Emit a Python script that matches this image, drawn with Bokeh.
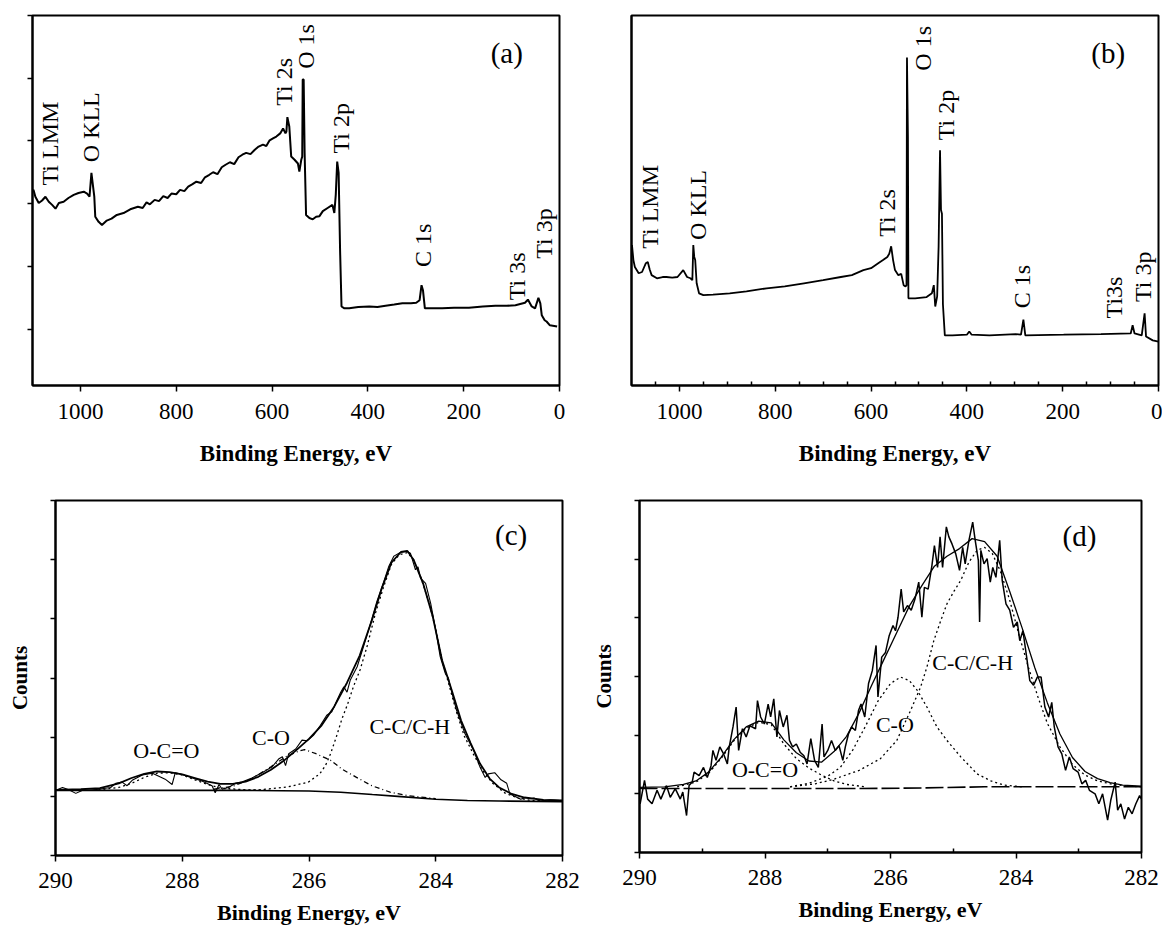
import numpy as np
from bokeh.plotting import figure
from bokeh.layouts import column, row
from bokeh.models import Range1d, FixedTicker, ColumnDataSource, CustomJSTickFormatter
from bokeh.core.properties import value
from bokeh.embed import file_html
from bokeh.resources import INLINE

FONT = "Liberation Serif"

# ---------------- (a) survey spectrum ----------------
a_be = [1100, 1098, 1094, 1087, 1080, 1073, 1066, 1059, 1052, 1045, 1035, 1025, 1014, 1004,
        993, 986, 981, 977, 974, 971, 969, 962, 955, 945, 935, 924, 910, 896, 880, 870, 862,
        855, 845, 836, 827, 818, 810, 800, 792, 783, 775, 766, 758, 748, 740, 731, 723, 714,
        705, 697, 688, 679, 670, 662, 654, 645, 636, 628, 619, 612, 605, 598, 591, 583, 577,
        572, 570, 568, 564, 560, 553, 546, 543, 539, 537, 536, 534, 532, 529, 522, 515, 508,
        501, 494, 484, 474, 470, 467, 464, 461, 458, 455, 449, 439, 420, 397, 380, 363, 345,
        328, 310, 299, 292, 288, 285, 281, 265, 245, 220, 189, 160, 134, 110, 92, 72, 66, 58,
        51, 44, 40, 37, 31, 27, 20, 11, 5]
a_counts = [2.20, 2.22, 2.11, 2.01, 2.05, 2.11, 2.03, 1.98, 1.92, 2.01, 2.03, 2.09, 2.14, 2.17,
            2.19, 2.16, 2.11, 2.49, 2.30, 2.11, 1.79, 1.71, 1.66, 1.73, 1.76, 1.82, 1.85, 1.91,
            1.95, 1.93, 2.02, 1.99, 2.06, 2.04, 2.12, 2.09, 2.16, 2.15, 2.22, 2.20, 2.27, 2.31,
            2.35, 2.33, 2.42, 2.46, 2.50, 2.47, 2.58, 2.62, 2.66, 2.63, 2.74, 2.78, 2.81, 2.79,
            2.86, 2.91, 2.94, 2.92, 3.01, 3.04, 3.07, 3.12, 3.20, 3.12, 3.15, 3.38, 3.23, 2.75,
            2.70, 2.64, 2.51, 2.70, 2.75, 3.98, 3.98, 2.81, 1.82, 1.77, 1.75, 1.79, 1.80, 1.88,
            1.93, 1.98, 1.85, 2.14, 2.67, 2.49, 1.26, 0.36, 0.33, 0.33, 0.35, 0.36, 0.35, 0.37,
            0.39, 0.41, 0.41, 0.42, 0.46, 0.70, 0.62, 0.33, 0.33, 0.33, 0.34, 0.34, 0.36, 0.37,
            0.37, 0.38, 0.42, 0.47, 0.36, 0.33, 0.50, 0.41, 0.22, 0.14, 0.12, 0.06, 0.05, 0.04]
a_labels = ["Ti LMM", "O KLL", "Ti 2s", "O 1s", "Ti 2p", "C 1s", "Ti 3s", "Ti 3p"]
a_label_be = [1064, 978, 575, 529, 457, 284, 89, 33]
a_label_y = [2.29, 2.66, 3.56, 4.15, 2.80, 0.99, 0.46, 1.12]

# ---------------- (b) survey spectrum ----------------
b_be = [1099, 1096, 1093, 1085, 1078, 1070, 1066, 1062, 1058, 1047, 1035, 1027, 1015, 1004,
        992, 984, 977, 973, 971, 969, 967, 964, 959, 950, 930, 895, 860, 818, 780, 740, 700,
        663, 640, 616, 600, 585, 575, 566, 562, 558, 554, 550, 543, 537, 532, 528, 526, 525,
        523, 522, 520, 508, 484, 473, 469, 466, 462, 459, 456, 454, 452, 450, 446, 430, 400,
        395, 390, 353, 298, 287, 282, 278, 198, 120, 58, 54, 50, 35, 29, 26, 12, 0]
b_counts = [1.34, 1.10, 0.99, 0.89, 0.91, 1.05, 1.07, 0.95, 0.86, 0.81, 0.83, 0.83, 0.82, 0.83,
            0.94, 0.83, 0.81, 0.78, 1.34, 1.15, 1.10, 0.73, 0.57, 0.54, 0.55, 0.57, 0.60, 0.65,
            0.68, 0.73, 0.78, 0.83, 0.86, 0.94, 0.97, 1.05, 1.10, 1.15, 1.20, 1.32, 1.10, 0.94,
            0.86, 0.88, 0.70, 0.68, 0.70, 4.33, 3.06, 0.49, 0.49, 0.49, 0.51, 0.57, 0.70, 0.36,
            0.52, 1.31, 2.85, 1.90, 1.84, 0.40, -0.10, -0.10, -0.09, -0.04, -0.09, -0.10, -0.08,
            -0.09, 0.15, -0.10, -0.09, -0.08, -0.07, 0.06, -0.07, -0.10, 0.25, -0.12, -0.18, -0.20]
b_labels = ["Ti LMM", "O KLL", "Ti 2s", "O 1s", "Ti 2p", "C 1s", "Ti3s", "Ti 3p"]
b_label_be = [1062, 961, 566, 491, 444, 285, 93, 33]
b_label_y = [1.28, 1.42, 1.47, 4.12, 3.01, 0.33, 0.17, 0.43]

# ---------------- (c) C 1s high resolution ----------------
c_raw_be = [290.00, 289.89, 289.79, 289.68, 289.58, 289.47, 289.32, 289.13, 289.05, 288.95,
            288.87, 288.79, 288.63, 288.47, 288.27, 288.16, 288.11, 288.00, 287.84, 287.69,
            287.53, 287.48, 287.42, 287.37, 287.27, 287.16, 287.06, 286.90, 286.74, 286.58,
            286.48, 286.42, 286.37, 286.32, 286.21, 286.11, 286.03, 285.93, 285.82, 285.72,
            285.64, 285.56, 285.50, 285.45, 285.40, 285.35, 285.24, 285.14, 285.03, 284.93,
            284.82, 284.74, 284.66, 284.56, 284.45, 284.40, 284.32, 284.28, 284.24, 284.16,
            284.08, 284.00, 283.93, 283.85, 283.80, 283.77, 283.67, 283.54, 283.40, 283.30,
            283.22, 283.17, 283.07, 282.97, 282.88, 282.83, 282.77, 282.66, 282.58, 282.50,
            282.45, 282.35, 282.20, 282.04]
c_raw = [0.10, 0.15, 0.11, 0.05, 0.10, 0.10, 0.12, 0.15, 0.22, 0.24,
         0.18, 0.27, 0.36, 0.39, 0.29, 0.20, 0.40, 0.37, 0.31, 0.26,
         0.18, 0.06, 0.20, 0.12, 0.15, 0.22, 0.24, 0.31, 0.40, 0.50,
         0.63, 0.67, 0.52, 0.72, 0.80, 0.95, 0.94, 1.03, 1.20, 1.37,
         1.43, 1.62, 1.76, 1.85, 1.76, 1.96, 2.19, 2.53, 2.92, 3.29,
         3.63, 3.89, 4.06, 4.12, 4.14, 4.11, 3.83, 3.88, 3.69, 3.60,
         3.26, 2.81, 2.36, 2.08, 2.00, 1.85, 1.45, 1.06, 0.77, 0.49,
         0.32, 0.38, 0.40, 0.28, 0.22, 0.04, 0.01, -0.05, -0.02, -0.04,
         -0.03, -0.08, -0.06, -0.07]
c_env_be = [290.0, 289.6, 289.3, 289.0, 288.8, 288.6, 288.4, 288.2, 288.0, 287.8, 287.6,
            287.4, 287.2, 287.0, 286.8, 286.6, 286.4, 286.2, 286.0, 285.8, 285.6, 285.4,
            285.2, 285.0, 284.85, 284.7, 284.55, 284.45, 284.35, 284.2, 284.05, 283.9,
            283.75, 283.6, 283.45, 283.3, 283.15, 283.0, 282.8, 282.6, 282.3, 282.0]
c_env = [0.11, 0.12, 0.14, 0.22, 0.31, 0.38, 0.42, 0.41, 0.37, 0.31, 0.25,
         0.21, 0.21, 0.25, 0.33, 0.45, 0.60, 0.78, 0.97, 1.20, 1.52, 1.92,
         2.38, 3.00, 3.52, 3.95, 4.13, 4.15, 4.00, 3.60, 3.05, 2.30,
         1.80, 1.28, 0.90, 0.55, 0.30, 0.15, 0.04, -0.02, -0.06, -0.07]
c_base_be = [290.0, 287.0, 286.0, 285.5, 285.0, 284.6, 284.0, 283.5, 283.0, 282.0]
c_base = [0.10, 0.10, 0.09, 0.07, 0.03, 0.00, -0.05, -0.07, -0.08, -0.09]
c_oco_be = [289.4, 289.0, 288.8, 288.6, 288.4, 288.2, 288.0, 287.8, 287.6, 287.4, 287.0, 286.6]
c_oco = [0.10, 0.15, 0.22, 0.32, 0.39, 0.40, 0.36, 0.28, 0.20, 0.14, 0.11, 0.10]
c_co_be = [287.5, 287.2, 286.9, 286.6, 286.35, 286.15, 286.07, 285.89, 285.66, 285.48,
           285.25, 285.01, 284.72, 284.43, 284.0]
c_co = [0.12, 0.17, 0.30, 0.50, 0.68, 0.77, 0.79, 0.72, 0.61, 0.46,
        0.32, 0.18, 0.07, 0.01, -0.04]
c_cc_be = [287.5, 287.0, 286.77, 286.33, 286.01, 285.83, 285.74, 285.66, 285.57, 285.48,
           285.39, 285.30, 285.19, 285.08, 284.95, 284.82, 284.70, 284.58, 284.45, 284.35,
           284.24, 284.10, 284.00, 283.90, 283.80, 283.68, 283.55, 283.40, 283.25, 283.10,
           282.90, 282.70, 282.50, 282.00]
c_cc = [0.10, 0.10, 0.11, 0.16, 0.24, 0.38, 0.52, 0.72, 1.00, 1.31,
        1.56, 1.85, 2.15, 2.55, 3.10, 3.55, 3.92, 4.08, 4.12, 4.00,
        3.72, 3.25, 2.82, 2.30, 1.92, 1.45, 1.02, 0.70, 0.42, 0.22,
        0.05, -0.03, -0.07, -0.08]
c_labels = ["O-C=O", "C-O", "C-C/C-H"]
c_label_be = [288.25, 286.6, 284.41]
c_label_y = [0.78, 0.99, 1.18]

# ---------------- (d) C 1s high resolution ----------------
d_raw_be = [289.99, 289.92, 289.87, 289.80, 289.72, 289.66, 289.57, 289.51, 289.43, 289.35,
            289.31, 289.25, 289.21, 289.16, 289.13, 289.05, 288.98, 288.92, 288.86, 288.83,
            288.78, 288.72, 288.66, 288.60, 288.57, 288.51, 288.46, 288.42, 288.36, 288.30,
            288.24, 288.15, 288.12, 288.07, 288.01, 287.95, 287.91, 287.86, 287.81, 287.77,
            287.71, 287.65, 287.61, 287.56, 287.50, 287.44, 287.38, 287.33, 287.27, 287.21,
            287.15, 287.09, 287.06, 287.00, 286.94, 286.88, 286.82, 286.76, 286.72, 286.67,
            286.62, 286.56, 286.51, 286.47, 286.41, 286.35, 286.29, 286.23, 286.20, 286.14,
            286.08, 286.02, 285.96, 285.92, 285.88, 285.83, 285.79, 285.73, 285.67, 285.61,
            285.55, 285.50, 285.46, 285.40, 285.34, 285.30, 285.25, 285.21, 285.17, 285.11,
            285.07, 285.02, 284.96, 284.90, 284.85, 284.81, 284.75, 284.69, 284.65, 284.60,
            284.58, 284.56, 284.51, 284.46, 284.41, 284.37, 284.32, 284.26, 284.22, 284.16,
            284.10, 284.04, 283.98, 283.94, 283.89, 283.83, 283.78, 283.72, 283.66, 283.60,
            283.54, 283.48, 283.43, 283.39, 283.33, 283.27, 283.21, 283.15, 283.09, 283.01,
            282.95, 282.89, 282.83, 282.74, 282.68, 282.62, 282.54, 282.49, 282.42, 282.38,
            282.33, 282.27, 282.21, 282.15, 282.09, 282.03, 282.00]
d_raw = [-0.17, 0.23, -0.09, -0.17, 0.06, -0.09, 0.14, -0.06, 0.09, -0.09,
         0.03, -0.37, 0.14, 0.20, 0.37, 0.31, 0.45, 0.28, 0.48, 0.74,
         0.57, 0.80, 0.68, 0.51, 0.80, 1.14, 1.48, 0.74, 1.11, 0.97,
         1.16, 1.11, 1.59, 1.31, 1.19, 1.53, 1.31, 1.62, 0.97, 1.42,
         1.14, 1.34, 0.91, 0.80, 0.85, 0.71, 0.65, 0.51, 0.94, 0.57,
         0.45, 1.19, 0.63, 0.74, 0.91, 0.74, 0.82, 0.57, 0.80, 1.02,
         1.14, 1.08, 1.42, 1.53, 1.31, 1.88, 2.10, 2.53, 1.65, 2.33,
         2.41, 2.70, 2.87, 2.78, 3.01, 3.49, 3.10, 3.21, 3.13, 3.32,
         3.61, 3.01, 3.52, 3.49, 3.89, 4.23, 3.86, 4.38, 3.86, 4.55,
         4.38, 4.26, 4.09, 3.81, 4.20, 3.92, 4.32, 4.63, 4.32, 3.98,
         2.93, 4.15, 3.92, 4.01, 3.61, 3.86, 3.69, 4.32, 3.64, 3.24,
         3.13, 2.84, 2.93, 2.61, 2.78, 2.33, 1.93, 1.85, 1.99, 1.99,
         1.48, 1.31, 1.56, 1.14, 0.80, 0.68, 0.40, 0.63, 0.43, 0.37,
         0.17, 0.23, 0.06, 0.00, -0.17, 0.00, -0.45, -0.11, 0.20, -0.28,
         -0.17, -0.43, -0.23, -0.34, -0.17, -0.03, -0.09]
d_env_be = [290.0, 289.6, 289.3, 289.1, 288.9, 288.7, 288.5, 288.3, 288.1, 287.9, 287.7,
            287.5, 287.3, 287.1, 286.9, 286.7, 286.5, 286.3, 286.1, 285.9, 285.7, 285.5,
            285.3, 285.1, 284.9, 284.7, 284.5, 284.3, 284.1, 283.9, 283.7, 283.5, 283.3,
            283.1, 282.9, 282.7, 282.5, 282.3, 282.0]
d_env = [0.11, 0.12, 0.16, 0.22, 0.37, 0.62, 0.92, 1.14, 1.24, 1.21, 0.92,
         0.70, 0.56, 0.54, 0.72, 0.98, 1.38, 1.85, 2.30, 2.75, 3.20, 3.55,
         3.88, 4.05, 4.18, 4.35, 4.30, 4.05, 3.45, 2.82, 2.15, 1.55, 1.02,
         0.62, 0.38, 0.26, 0.19, 0.15, 0.13]
d_base_be = [290.0, 286.5, 285.5, 284.5, 282.0]
d_base = [0.09, 0.09, 0.10, 0.12, 0.12]
d_oco_be = [289.4, 289.1, 288.9, 288.7, 288.5, 288.3, 288.1, 287.9, 287.7, 287.5, 287.3,
            287.1, 286.9, 286.7, 286.4]
d_oco = [0.12, 0.20, 0.35, 0.60, 0.90, 1.12, 1.22, 1.18, 0.85, 0.60, 0.44,
         0.32, 0.22, 0.16, 0.12]
d_co_be = [287.6, 287.3, 287.0, 286.8, 286.6, 286.4, 286.2, 286.0, 285.84, 285.7, 285.57,
           285.42, 285.26, 285.10, 284.88, 284.62, 284.40, 284.19, 283.9]
d_co = [0.12, 0.18, 0.30, 0.45, 0.75, 1.15, 1.58, 1.88, 1.99, 1.93, 1.76,
        1.48, 1.14, 0.91, 0.63, 0.34, 0.22, 0.15, 0.12]
d_cc_be = [287.6, 287.2, 286.9, 286.5, 286.16, 285.9, 285.68, 285.52, 285.42, 285.31,
           285.20, 285.10, 284.99, 284.88, 284.75, 284.62, 284.50, 284.38, 284.25, 284.10,
           283.95, 283.80, 283.65, 283.50, 283.30, 283.10, 282.90, 282.70, 282.45, 282.20, 282.0]
d_cc = [0.12, 0.17, 0.25, 0.40, 0.60, 0.91, 1.42, 1.82, 2.16, 2.61,
        2.95, 3.24, 3.45, 3.64, 3.95, 4.15, 4.20, 4.10, 3.80, 3.30,
        2.70, 2.15, 1.65, 1.20, 0.80, 0.50, 0.32, 0.22, 0.16, 0.13, 0.12]
d_labels = ["O-C=O", "C-O", "C-C/C-H"]
d_label_be = [288.0, 285.93, 284.69]
d_label_y = [0.41, 1.18, 2.24]

survey_ticks = [0, 200, 400, 600, 800, 1000]
survey_minor = [50, 100, 150, 250, 300, 350, 450, 500, 550, 650, 700, 750, 850, 900, 950, 1050]
hr_ticks = [282, 284, 286, 288, 290]
hr_minor = [283, 285, 287, 289]


def make_fig(fw, fh, left, right, top, bottom, xr, yr, xticks, xminor, yticks,
             ylabel=None, tick_standoff=12, label_standoff=19, label_size="23px"):
    p = figure(frame_width=fw, frame_height=fh, x_range=Range1d(*xr), y_range=Range1d(*yr),
               output_backend="svg", toolbar_location=None,
               min_border_left=left, min_border_right=right,
               min_border_top=top, min_border_bottom=bottom)
    p.xgrid.visible = False
    p.ygrid.visible = False
    p.background_fill_color = "white"
    p.border_fill_color = "white"
    p.outline_line_color = "black"
    p.outline_line_width = 2
    p.outline_line_alpha = 1.0
    xa = p.xaxis[0]
    xa.ticker = FixedTicker(ticks=xticks, minor_ticks=xminor)
    xa.axis_line_width = 2
    xa.major_tick_line_width = 1.5
    xa.major_tick_out = 6
    xa.major_tick_in = 0
    xa.minor_tick_in = 4
    xa.minor_tick_out = 0
    xa.minor_tick_line_width = 1.5
    xa.major_label_text_font = FONT
    xa.major_label_text_font_size = "23px"
    xa.major_label_text_color = "black"
    xa.major_label_standoff = tick_standoff
    xa.axis_label = "Binding Energy, eV"
    xa.axis_label_text_font = FONT
    xa.axis_label_text_font_style = "bold"
    xa.axis_label_text_font_size = label_size
    xa.axis_label_text_color = "black"
    xa.axis_label_standoff = label_standoff
    ya = p.yaxis[0]
    ya.ticker = FixedTicker(ticks=yticks)
    ya.formatter = CustomJSTickFormatter(code="return ''")
    ya.axis_line_width = 2
    ya.major_tick_line_width = 1.5
    ya.major_tick_out = 5 if yticks else 0
    ya.major_tick_in = 0
    ya.minor_tick_out = 0
    ya.minor_tick_in = 0
    ya.major_label_standoff = 0
    if ylabel:
        ya.axis_label = ylabel
        ya.axis_label_text_font = FONT
        ya.axis_label_text_font_style = "bold"
        ya.axis_label_text_font_size = "21px"
        ya.axis_label_text_color = "black"
        ya.axis_label_standoff = 19
    return p


def add_labels(p, xs, ys, texts, angle, align, size):
    src = ColumnDataSource(dict(x=xs, y=ys, t=texts))
    p.text(x="x", y="y", text="t", source=src, angle=angle, text_align=align,
           text_baseline="middle", text_font=value(FONT), text_font_size=size,
           text_color="black")


# ---- (a)
pa = make_fig(527, 370, 32, 21, 15, 85, (1100, 0), (-0.9, 5.0), survey_ticks, [], [0, 1, 2, 3, 4, 5])
pa.line(a_be, a_counts, line_color="black", line_width=2)
add_labels(pa, a_label_be, a_label_y, a_labels, np.pi / 2, "left", "24px")
add_labels(pa, [110], [4.40], ["(a)"], 0, "center", "29px")

# ---- (b)
pb = make_fig(527, 370, 51, 4, 14, 86, (1100, 0), (-0.9, 5.0), survey_ticks, survey_minor, [])
pb.line(b_be, b_counts, line_color="black", line_width=1.8)
add_labels(pb, b_label_be, b_label_y, b_labels, np.pi / 2, "left", "24px")
add_labels(pb, [105], [4.40], ["(b)"], 0, "center", "29px")

# ---- (c)
pc = make_fig(507, 355, 55, 18, 30, 77, (290, 282), (-1, 5), hr_ticks, [], [-1, 0, 1, 2, 3, 4, 5],
              ylabel="Counts", tick_standoff=11, label_standoff=9, label_size="22px")
pc.line(c_base_be, c_base, line_color="black", line_width=1.6)
pc.line(c_oco_be, c_oco, line_color="black", line_width=1.3, line_dash="2 3")
pc.line(c_co_be, c_co, line_color="black", line_width=1.3, line_dash="5 3 1 3")
pc.line(c_cc_be, c_cc, line_color="black", line_width=1.3, line_dash="2 3")
pc.line(c_raw_be, c_raw, line_color="black", line_width=1.1)
pc.line(c_env_be, c_env, line_color="black", line_width=1.8)
add_labels(pc, c_label_be, c_label_y, c_labels, 0, "center", "22px")
add_labels(pc, [282.81], [4.42], ["(c)"], 0, "center", "29px")

# ---- (d)
pd_ = make_fig(502, 352, 59, 21, 30, 80, (290, 282), (-1, 5), hr_ticks, hr_minor, [-1, 0, 1, 2, 3, 4, 5],
               ylabel="Counts", tick_standoff=11, label_standoff=9, label_size="22px")
pd_.line(d_base_be, d_base, line_color="black", line_width=1.6, line_dash="18 4")
pd_.line(d_oco_be, d_oco, line_color="black", line_width=1.3, line_dash="2 3")
pd_.line(d_co_be, d_co, line_color="black", line_width=1.3, line_dash="2 3")
pd_.line(d_cc_be, d_cc, line_color="black", line_width=1.3, line_dash="2 3")
pd_.line(d_env_be, d_env, line_color="black", line_width=1.3)
pd_.line(d_raw_be, d_raw, line_color="black", line_width=1.5)
add_labels(pd_, d_label_be, d_label_y, d_labels, 0, "center", "22px")
add_labels(pd_, [282.99], [4.40], ["(d)"], 0, "center", "29px")

layout = column(row(pa, pb), row(pc, pd_))

with open("out.html", "w") as f:
    f.write(file_html(layout, INLINE))
